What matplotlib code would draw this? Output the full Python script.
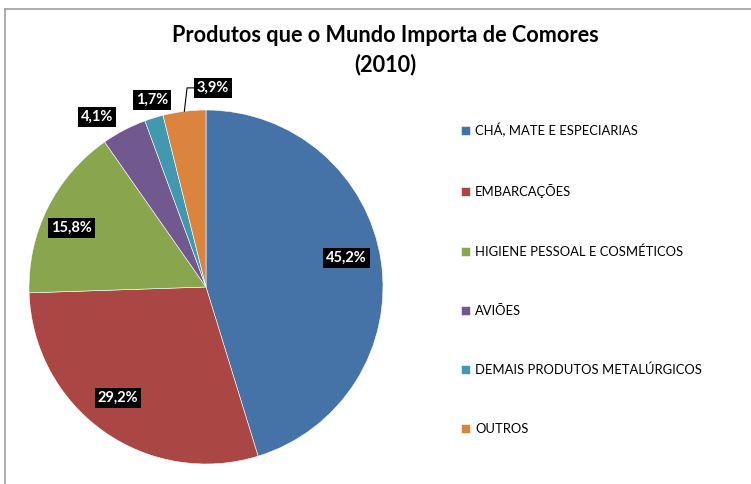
import numpy as np
import matplotlib.pyplot as plt
from matplotlib.lines import Line2D

# dados (2010)
categorias = ['CHÁ, MATE E ESPECIARIAS', 'EMBARCAÇÕES', 'HIGIENE PESSOAL E COSMÉTICOS',
              'AVIÕES', 'DEMAIS PRODUTOS METALÚRGICOS', 'OUTROS']
valores = [45.2, 29.2, 15.8, 4.1, 1.7, 3.9]
rotulos = ['45,2%', '29,2%', '15,8%', '4,1%', '1,7%', '3,9%']
cores = ['#4572A7', '#AA4643', '#89A54E', '#71588F', '#4198AF', '#DB843D']

plt.rcParams['font.family'] = ['Lato', 'DejaVu Sans']

W, H = 751, 484
fig = plt.figure(figsize=(W / 100, H / 100), dpi=100)

# moldura do gráfico (só topo e esquerda aparecem no recorte)
fig.add_artist(Line2D([5 / W, 1], [1 - 9 / H, 1 - 9 / H], color='#a0a0a0', lw=1.2))
fig.add_artist(Line2D([5 / W, 5 / W], [0, 1 - 9 / H], color='#a0a0a0', lw=1.2))

cx, cy, r = 206, 287, 177
ax = fig.add_axes([(cx - r) / W, (H - cy - r) / H, 2 * r / W, 2 * r / H])
wedges, _ = ax.pie(valores, colors=cores, startangle=90, counterclock=False,
                   radius=1, wedgeprops=dict(edgecolor='white', linewidth=0.4))
ax.set_xlim(-1, 1)
ax.set_ylim(-1, 1)
ax.set_aspect('equal')
ax.axis('off')

# posição dos rótulos: raio e ajuste de ângulo por fatia
raio_rot = [0.81, 0.80, 0.83, 1.14, 1.10, 1.125]
ajuste_ang = [3, -3, 3, 5, -1, -9]
for w, txt, rr, da in zip(wedges, rotulos, raio_rot, ajuste_ang):
    ang = np.deg2rad((w.theta1 + w.theta2) / 2 + da)
    x, y = rr * np.cos(ang), rr * np.sin(ang)
    ax.text(x, y, txt, ha='center', va='center', color='white', fontsize=10.5,
            fontweight='bold', clip_on=False,
            bbox=dict(boxstyle='square,pad=0.2', fc='black', ec='none'))

# linha guia para OUTROS
w = wedges[5]
a = np.deg2rad((w.theta1 + w.theta2) / 2)
x0, y0 = np.cos(a), np.sin(a)
ax.plot([x0, -0.107, -0.07], [y0, 1.125, 1.125], color='black', lw=0.8, clip_on=False)

fig.text(385 / W, 1 - 36 / H, 'Produtos que o Mundo Importa de Comores',
         ha='center', va='center', fontsize=15.6, fontweight='bold')
fig.text(385 / W, 1 - 65 / H, '(2010)', ha='center', va='center',
         fontsize=15.6, fontweight='bold')

fig.legend(wedges, categorias, loc='upper left', bbox_to_anchor=(461 / W, 1 - 123 / H),
           frameon=False, fontsize=9.4, labelspacing=3.6, handlelength=0.68,
           handleheight=0.68, handletextpad=0.4, borderpad=0, borderaxespad=0)

fig.savefig('out.png', dpi=100)
